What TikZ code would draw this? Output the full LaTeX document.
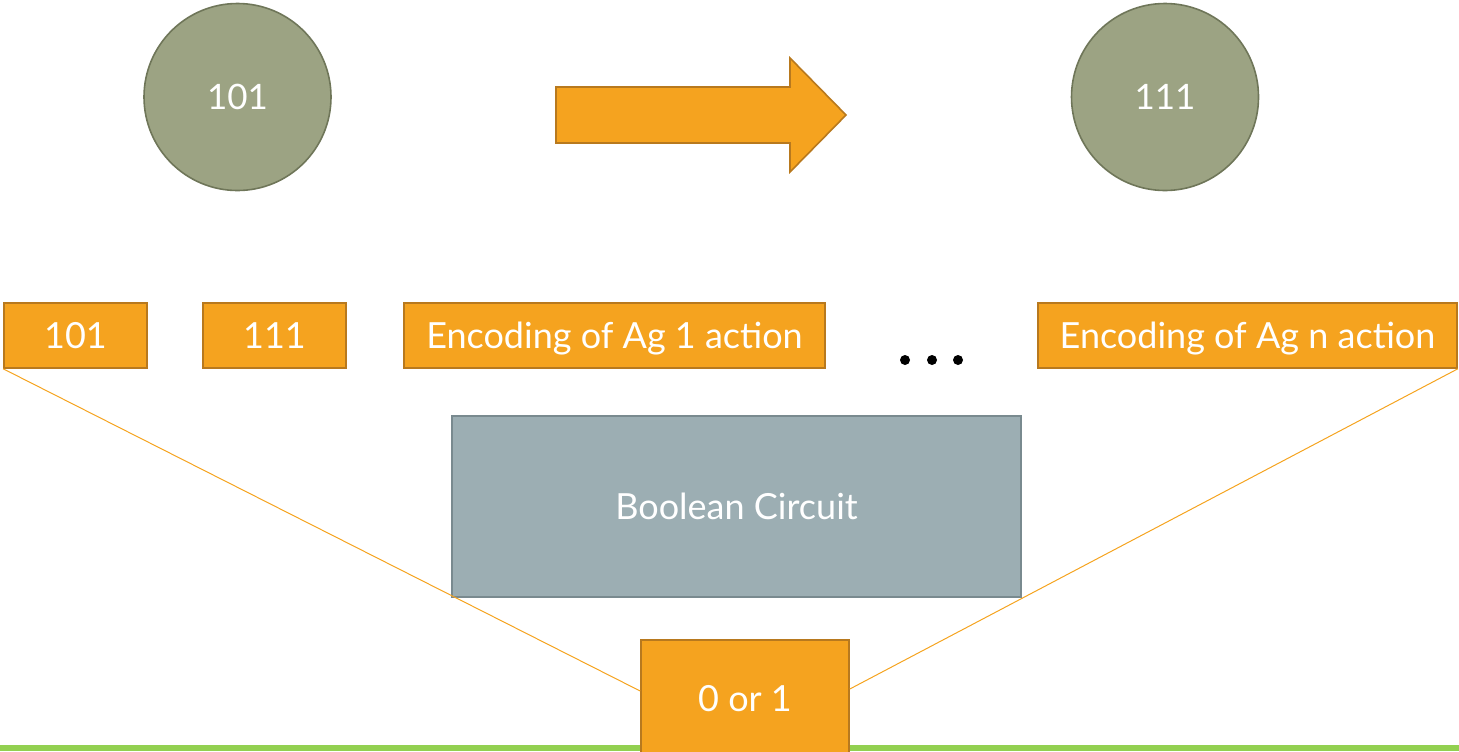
\documentclass[tikz,border=0pt]{standalone}
\usepackage{fontspec}
\setmainfont{Lato}
\definecolor{ambre}{HTML}{F5A31F}
\definecolor{ambreline}{HTML}{B8791E}
\definecolor{olive}{HTML}{9CA383}
\definecolor{oliveline}{HTML}{6F7659}
\definecolor{slate}{HTML}{9CAEB3}
\definecolor{slateline}{HTML}{798A8F}
\definecolor{lawn}{HTML}{92D050}
\tikzset{
  state/.style={circle, fill=olive, draw=oliveline, line width=0.8pt,
    minimum size=93.5pt, inner sep=0pt, text=white, font=\fontsize{17.5}{20}\selectfont},
  tag/.style={rectangle, fill=ambre, draw=ambreline, line width=0.8pt,
    minimum height=32.5pt, inner sep=0pt, text depth=0pt, text=white,
    font=\fontsize{18}{21}\selectfont},
  circuit/.style={rectangle, fill=slate, draw=slateline, line width=0.9pt,
    minimum width=284.5pt, minimum height=90.5pt, inner sep=0pt, text=white,
    font=\fontsize{18}{21}\selectfont},
  link/.style={draw=ambre, line width=0.5pt},
  dot/.style={circle, fill=black, minimum size=5pt, inner sep=0pt},
}
\begin{document}
\begin{tikzpicture}[x=0.5pt, y=-0.5pt]
\useasboundingbox (0,0) rectangle (1459,751);

% ground strip along the bottom
\fill[lawn] (0,745) rectangle (1459,751);

% states and transition arrow
\node[state] (s1) at (237.5,97) {101};
\node[state] (s2) at (1165,97) {111};
\draw[fill=ambre, draw=ambreline, line width=0.8pt]
  (556,87) -- (790,87) -- (790,58) -- (846,115) -- (790,172) -- (790,143) -- (556,143) -- cycle;

% encoded inputs
\node[tag, minimum width=71.5pt] (b1) at (75.5,335.5) {101};
\node[tag, minimum width=71.5pt] (b2) at (274.5,335.5) {111};
\node[tag, minimum width=210.5pt] (b3) at (614.5,335.5) {Encoding of Ag 1 action};
\node[tag, minimum width=209.5pt] (b4) at (1247.5,335.5) {Encoding of Ag n action};

\node[dot] (d1) at (905,360) {};
\node[dot] (d2) at (932,360) {};
\node[dot] (d3) at (958,360) {};

% circuit and its output
\node[circuit] (bc) at (736.5,506.5) {Boolean Circuit};
\node[tag, minimum width=104pt, minimum height=58pt] (out) at (745,698) {0 or 1};

\draw[link] (b1.south west) -- ([yshift=3.5pt]out.west);
\draw[link] (b4.south east) -- ([yshift=4.5pt]out.east);
\end{tikzpicture}
\end{document}
